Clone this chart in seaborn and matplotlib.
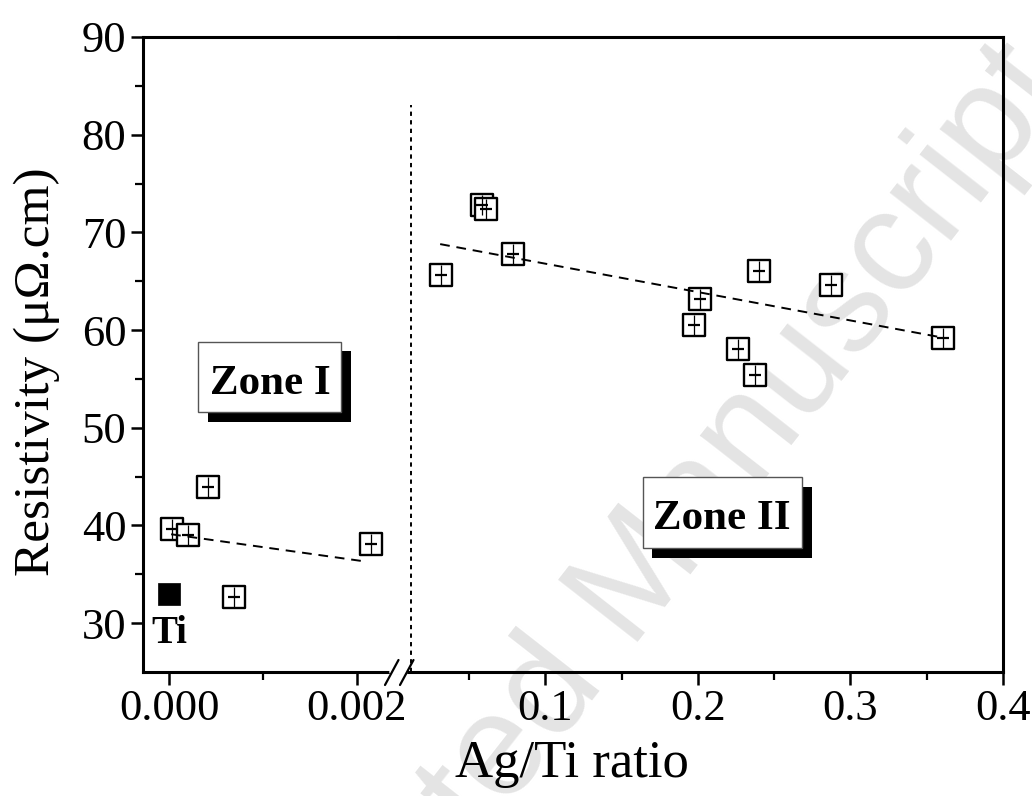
import matplotlib
matplotlib.use("Agg")
import matplotlib.pyplot as plt
import matplotlib.patheffects as pe
from matplotlib.patches import Rectangle
from matplotlib.lines import Line2D
from matplotlib.ticker import FixedLocator
import seaborn as sns
import pandas as pd

# ---------------- data ----------------
ti_x = [0.0]
ti_y = [33.0]
zone1_x = [0.00003, 0.00020, 0.00041, 0.00069, 0.00215]
zone1_y = [39.6, 39.0, 43.9, 32.7, 38.1]
zone2_x = [0.0315, 0.0587, 0.0609, 0.0790, 0.1974, 0.2014, 0.2265, 0.2374, 0.2402, 0.2872, 0.3605]
zone2_y = [65.6, 72.8, 72.4, 67.8, 60.5, 63.2, 58.1, 55.4, 66.0, 64.6, 59.2]
fit1_x = [0.00002, 0.0021]
fit1_y = [39.1, 36.3]
fit2_x = [0.031, 0.358]
fit2_y = [68.8, 59.3]
boundary_x = [0.0118, 0.0118]
boundary_y = [25, 83]
left_ticks = [0.000, 0.002]
left_minor = [0.001]
left_labels = ["0.000", "0.002"]
right_ticks = [0.1, 0.2, 0.3, 0.4]
right_minor = [0.05, 0.15, 0.25, 0.35]
right_labels = ["0.1", "0.2", "0.3", "0.4"]
y_ticks = [30, 40, 50, 60, 70, 80, 90]
y_minor = [35, 45, 55, 65, 75, 85]
y_labels = ["30", "40", "50", "60", "70", "80", "90"]

# ---------------- style ----------------
sns.set_theme(style="ticks")
plt.rcParams["font.family"] = ["Liberation Serif", "DejaVu Serif"]
plt.rcParams["text.color"] = "black"
plt.rcParams["axes.labelcolor"] = "black"
plt.rcParams["xtick.color"] = "black"
plt.rcParams["ytick.color"] = "black"

W, H = 1032, 796
fig = plt.figure(figsize=(W / 100, H / 100), dpi=100)
fig.patch.set_facecolor("white")

def fx(px):
    return px / W

def fy(py):
    return 1 - py / H

x_left, x_break, x_right = 143, 398, 1003
y_top, y_bot = 37, 672
axL = fig.add_axes([fx(x_left), fy(y_bot), fx(x_break) - fx(x_left), fy(y_top) - fy(y_bot)])
axR = fig.add_axes([fx(x_break), fy(y_bot), fx(x_right) - fx(x_break), fy(y_top) - fy(y_bot)])

# watermark (behind everything)
fig.text(0.602, 0.244, "Accepted Manuscript", fontsize=105, color="#e4e4e4",
         rotation=52, ha="center", va="center", rotation_mode="anchor",
         family=["Liberation Sans", "DejaVu Sans"], zorder=-10)

for ax in (axL, axR):
    ax.set_facecolor("none")
    ax.set_ylim(25, 90)
    for s in ax.spines.values():
        s.set_linewidth(2.2)
        s.set_color("black")
    ax.tick_params(which="major", direction="out", length=9, width=1.8,
                   labelsize=32, pad=3, colors="black")
    ax.tick_params(which="minor", direction="out", length=5.5, width=1.6, colors="black")
    ax.grid(False)

axL.set_xlim(-0.00028, 0.00244)
axR.set_xlim(0.00336, 0.4)

axL.spines["right"].set_visible(False)
axR.spines["left"].set_visible(False)
axL.tick_params(axis="both", top=False, right=False)
axR.tick_params(axis="y", which="both", left=False, right=False, labelleft=False)
axR.tick_params(axis="x", which="both", top=False)

axL.xaxis.set_major_locator(FixedLocator(left_ticks))
axL.xaxis.set_minor_locator(FixedLocator(left_minor))
axL.set_xticklabels(left_labels)
axR.xaxis.set_major_locator(FixedLocator(right_ticks))
axR.xaxis.set_minor_locator(FixedLocator(right_minor))
axR.set_xticklabels(right_labels)
axL.yaxis.set_major_locator(FixedLocator(y_ticks))
axL.yaxis.set_minor_locator(FixedLocator(y_minor))
axL.set_yticklabels(y_labels)

# ---------------- marks ----------------
def hollow(ax, xs, ys):
    df = pd.DataFrame({"x": xs, "y": ys})
    sns.scatterplot(data=df, x="x", y="y", ax=ax, marker="s", s=245,
                    facecolor="white", edgecolor="black", linewidth=1.7,
                    zorder=4, legend=False)
    ax.scatter(xs, ys, marker="|", s=190, c="black", linewidths=0.9, zorder=5)
    ax.scatter(xs, ys, marker="_", s=80, c="black", linewidths=1.6, zorder=5)

df_ti = pd.DataFrame({"x": ti_x, "y": ti_y})
sns.scatterplot(data=df_ti, x="x", y="y", ax=axL, marker="s", s=260,
                color="black", edgecolor="black", linewidth=0.5, zorder=4, legend=False)
hollow(axL, zone1_x, zone1_y)
hollow(axR, zone2_x, zone2_y)

sns.lineplot(x=fit1_x, y=fit1_y, ax=axL, color="black", linewidth=1.4,
             linestyle=(0, (5, 3.5)), zorder=6)
sns.lineplot(x=fit2_x, y=fit2_y, ax=axR, color="black", linewidth=1.4,
             linestyle=(0, (5, 3.5)), zorder=6)
axR.vlines(boundary_x[0], boundary_y[0], boundary_y[1], colors="black",
           linewidth=1.4, linestyles=(0, (2.2, 2.2)), zorder=3)

for ax in (axL, axR):
    ax.set_xlabel("")
    ax.set_ylabel("")

# ---------------- annotations ----------------
axL.text(0.0, 28.0, "Ti", fontsize=28, fontweight="bold", ha="center", va="baseline",
         color="black", zorder=7)

shadow = [pe.SimplePatchShadow(offset=(7, -7), shadow_rgbFace="black", alpha=1.0), pe.Normal()]
r1 = Rectangle((0.00031, 51.57), 0.00183 - 0.00031, 58.82 - 51.57, facecolor="white",
               edgecolor="#555555", linewidth=1.0, zorder=7, path_effects=shadow)
axL.add_patch(r1)
axL.text(0.001079, 53.46, "Zone I", fontsize=31, fontweight="bold", ha="center",
         va="baseline", color="black", zorder=8)
r2 = Rectangle((0.1638, 37.66), 0.2684 - 0.1638, 44.97 - 37.66, facecolor="white",
               edgecolor="#555555", linewidth=1.0, zorder=7, path_effects=shadow)
axR.add_patch(r2)
axR.text(0.2156, 39.6, "Zone II", fontsize=31, fontweight="bold", ha="center",
         va="baseline", color="black", zorder=8)

# axis titles
fig.text(fx(572), fy(764), "Ag/Ti ratio", fontsize=38, ha="center", va="center", color="black")
fig.text(fx(37), fy(372), "Resistivity (\u03bc\u03a9.cm)", fontsize=37, rotation=90,
         ha="center", va="center", color="black")

# axis break marks
fig.add_artist(Line2D([fx(392), fx(405)], [fy(672), fy(672)], color="white",
                      linewidth=4, zorder=10))
for x0 in (385, 400):
    fig.add_artist(Line2D([fx(x0), fx(x0 + 13.5)], [fy(685), fy(660)], color="black",
                          linewidth=1.6, zorder=11))

fig.savefig("out.png", dpi=100, facecolor="white")
